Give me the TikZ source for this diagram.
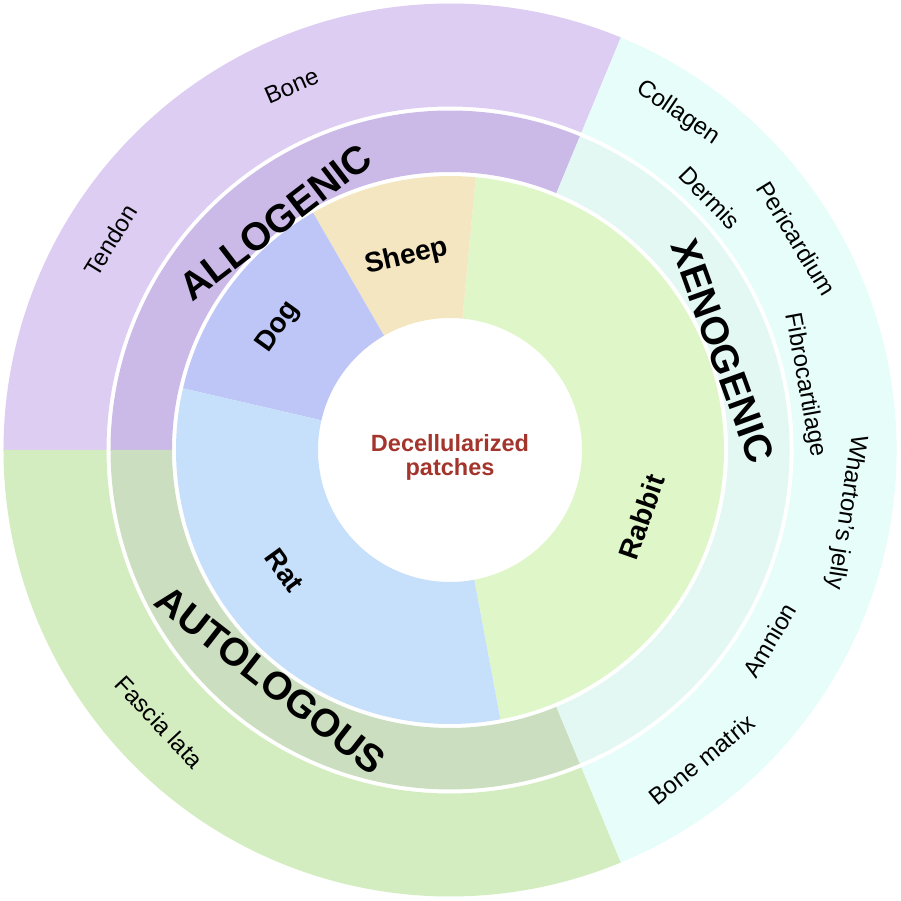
\documentclass[tikz,border=0pt]{standalone}
\usepackage{fontspec}
\setmainfont{Liberation Sans}
\definecolor{alloout}{HTML}{DDCDF3}
\definecolor{allomid}{HTML}{CBBAE7}
\definecolor{autoout}{HTML}{D3EDC0}
\definecolor{automid}{HTML}{CBDFC0}
\definecolor{xenoout}{HTML}{E7FDF9}
\definecolor{xenomid}{HTML}{E3F8F3}
\definecolor{dogcol}{HTML}{BEC6F8}
\definecolor{sheepcol}{HTML}{F3E6C1}
\definecolor{rabbitcol}{HTML}{DFF7C8}
\definecolor{ratcol}{HTML}{C6DFFA}
\definecolor{patchred}{HTML}{A3352D}
% annular sector: colour, start angle, end angle, inner radius, outer radius
\newcommand{\ringpart}[5]{\fill[#1] (#2:#4) arc[start angle=#2, end angle=#3, radius=#4] -- (#3:#5) arc[start angle=#3, end angle=#2, radius=#5] -- cycle;}
\begin{document}
\begin{tikzpicture}[x=1pt, y=1pt,
    outerlabel/.style={inner sep=0pt, font=\fontsize{24}{24}\selectfont},
    midlabel/.style={inner sep=0pt, font=\fontsize{39}{39}\selectfont\bfseries},
    innerlabel/.style={inner sep=0pt, font=\fontsize{28}{28}\selectfont\bfseries}]
    \useasboundingbox (-450,-451) rectangle (451,450);
    % outer ring
    \ringpart{alloout}{67.5}{180}{343.5}{446.5}
    \ringpart{autoout}{180}{292.5}{343.5}{446.5}
    \ringpart{xenoout}{292.5}{427.5}{343.5}{446.5}
    % middle ring
    \ringpart{allomid}{67.5}{180}{278}{339.5}
    \ringpart{automid}{180}{292.5}{278}{339.5}
    \ringpart{xenomid}{292.5}{427.5}{278}{339.5}
    % inner ring
    \ringpart{rabbitcol}{-79.4}{84.6}{132}{274}
    \ringpart{sheepcol}{84.6}{120}{132}{274}
    \ringpart{dogcol}{120}{167}{132}{274}
    \ringpart{ratcol}{167}{280.6}{132}{274}
    % centre
    \node[inner sep=0pt, align=center, text=patchred, font=\fontsize{23.5}{24}\selectfont\bfseries] (centre) at (0,-7) {Decellularized\\patches};
    % inner labels
    \node[innerlabel, rotate=13] (sheep) at (102.6:198) {Sheep};
    \node[innerlabel, rotate=54.4] (dog) at (144.4:211) {Dog};
    \node[innerlabel, rotate=-54] (rat) at (216:205) {Rat};
    \node[innerlabel, rotate=70.8] (rabbit) at (-19.2:203) {Rabbit};
    % middle labels
    \node[midlabel, rotate=37.5] (allogenic) at (127.5:287) {ALLOGENIC};
    \node[midlabel, rotate=-38] (autologous) at (232:292) {AUTOLOGOUS};
    \node[midlabel, rotate=-70.1] (xenogenic) at (19.9:290) {XENOGENIC};
    % outer labels
    \node[outerlabel, rotate=23.5] (bone) at (113.5:397) {Bone};
    \node[outerlabel, rotate=58.3] (tendon) at (148.3:399) {Tendon};
    \node[outerlabel, rotate=-46.9] (fascia) at (223.1:398) {Fascia lata};
    \node[outerlabel, rotate=-34.1] (collagen) at (55.9:407) {Collagen};
    \node[outerlabel, rotate=-45.9] (dermis) at (44.1:362) {Dermis};
    \node[outerlabel, rotate=-58.6] (pericardium) at (31.4:406) {Pericardium};
    \node[outerlabel, rotate=-79.6] (fibro) at (10.4:361) {Fibrocartilage};
    \node[outerlabel, rotate=-98.9] (wharton) at (-8.9:401) {Wharton’s jelly};
    \node[outerlabel, rotate=59.2] (amnion) at (-30.8:372) {Amnion};
    \node[outerlabel, rotate=39.1] (bonematrix) at (-50.9:399) {Bone matrix};
\end{tikzpicture}
\end{document}
